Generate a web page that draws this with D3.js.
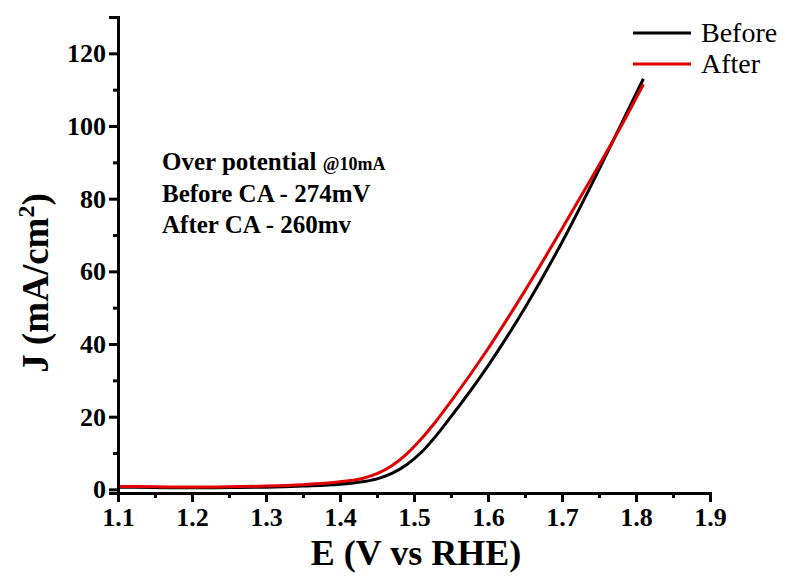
<!DOCTYPE html>
<html>
<head>
<meta charset="utf-8">
<script src="https://cdn.jsdelivr.net/npm/d3@7"></script>
<style>
  body { margin: 0; background: #fff; }
  svg, svg text { font-family: "Liberation Serif", "DejaVu Serif", serif !important; }
</style>
</head>
<body>
<svg id="chart" width="785" height="583"></svg>
<script>
// Potential values (V vs RHE)
const potential = [1.10, 1.15, 1.20, 1.25, 1.30, 1.35, 1.40, 1.43, 1.45, 1.47, 1.49, 1.51,
                   1.53, 1.55, 1.60, 1.65, 1.70, 1.75, 1.78, 1.81];
// Current density before CA (mA/cm2)
const jBefore = [0.6, 0.5, 0.45, 0.5, 0.6, 0.9, 1.4, 2.1, 2.9, 4.4, 6.8, 10.2,
                 14.8, 20.0, 34, 50, 68, 88, 100.5, 113];
// Current density after CA (mA/cm2)
const jAfter = [0.8, 0.7, 0.65, 0.7, 0.9, 1.3, 2.1, 3.0, 4.3, 6.5, 9.7, 13.9,
                18.8, 24.2, 38.7, 54.7, 71.7, 89.2, 100, 111.5];

const seriesNames = ["Before", "After"];
const seriesColors = ["#000000", "#e00000"];
const xTicks = [1.1, 1.2, 1.3, 1.4, 1.5, 1.6, 1.7, 1.8, 1.9];
const yTicks = [0, 20, 40, 60, 80, 100, 120];
const notes = ["Over potential ", "Before CA - 274mV", "After CA - 260mv"];

const serif = "'Liberation Serif', 'DejaVu Serif', serif";
const svg = d3.select("#chart").style("font-family", serif);

// Scales
const x = d3.scaleLinear().domain([1.1, 1.9]).range([118, 710]);
const y = d3.scaleLinear().domain([-1, 130]).range([493, 17]);

// Curves
const line = d3.line()
    .x(d => x(d[0]))
    .y(d => y(d[1]))
    .curve(d3.curveMonotoneX);

[jBefore, jAfter].forEach((vals, i) => {
    svg.append("path")
        .datum(potential.map((e, k) => [e, vals[k]]))
        .attr("fill", "none")
        .attr("stroke", seriesColors[i])
        .attr("stroke-width", 3)
        .attr("d", line);
});

// X axis
const xAxis = svg.append("g").attr("transform", `translate(0,${y(-1)})`);
xAxis.call(d3.axisBottom(x).tickValues(d3.range(1.15, 1.9, 0.1)).tickSize(5).tickFormat(""));
xAxis.call(g => g.append("g").call(d3.axisBottom(x).tickValues(xTicks).tickSize(9).tickPadding(6)
    .tickFormat(d3.format(".1f"))));

// Y axis
const yAxis = svg.append("g").attr("transform", `translate(${x(1.1)},0)`);
yAxis.call(d3.axisLeft(y).tickValues(d3.range(10, 121, 20)).tickSize(5).tickFormat(""));
yAxis.call(g => g.append("g").call(d3.axisLeft(y).tickValues(yTicks).tickSize(9).tickPadding(3)));

svg.selectAll("g").attr("font-family", serif);
svg.selectAll(".domain").attr("stroke-width", 3).attr("stroke", "#000");
svg.selectAll(".tick line").attr("stroke-width", 3).attr("stroke", "#000");
svg.selectAll(".tick text")
    .attr("font-size", 26)
    .attr("font-weight", "bold")
    .attr("fill", "#000");

// Axis titles
svg.append("text")
    .attr("x", 416).attr("y", 565)
    .attr("text-anchor", "middle")
    .attr("font-size", 36).attr("font-weight", "bold")
    .text("E (V vs RHE)");

const yTitle = svg.append("text")
    .attr("transform", "translate(48,283) rotate(-90)")
    .attr("text-anchor", "middle")
    .attr("font-size", 37).attr("font-weight", "bold");
yTitle.append("tspan").text("J (mA/cm");
yTitle.append("tspan").attr("font-size", 24).attr("dy", -14).text("2");
yTitle.append("tspan").attr("dy", 14).text(")");

// Annotation
const note = svg.append("g").attr("font-weight", "bold").attr("font-size", 25);
const n0 = note.append("text").attr("x", 162).attr("y", 170);
n0.append("tspan").text(notes[0]);
n0.append("tspan").attr("font-size", 18).text("@10mA");
note.append("text").attr("x", 162).attr("y", 202).text(notes[1]);
note.append("text").attr("x", 162).attr("y", 233).text(notes[2]);

// Legend
const legend = svg.append("g");
seriesNames.forEach((name, i) => {
    const ly = 33 + i * 31;
    legend.append("line")
        .attr("x1", 633).attr("x2", 691)
        .attr("y1", ly).attr("y2", ly)
        .attr("stroke", seriesColors[i]).attr("stroke-width", 3);
    legend.append("text")
        .attr("x", 701).attr("y", ly + 9)
        .attr("font-size", 28)
        .text(name);
});
</script>
</body>
</html>
